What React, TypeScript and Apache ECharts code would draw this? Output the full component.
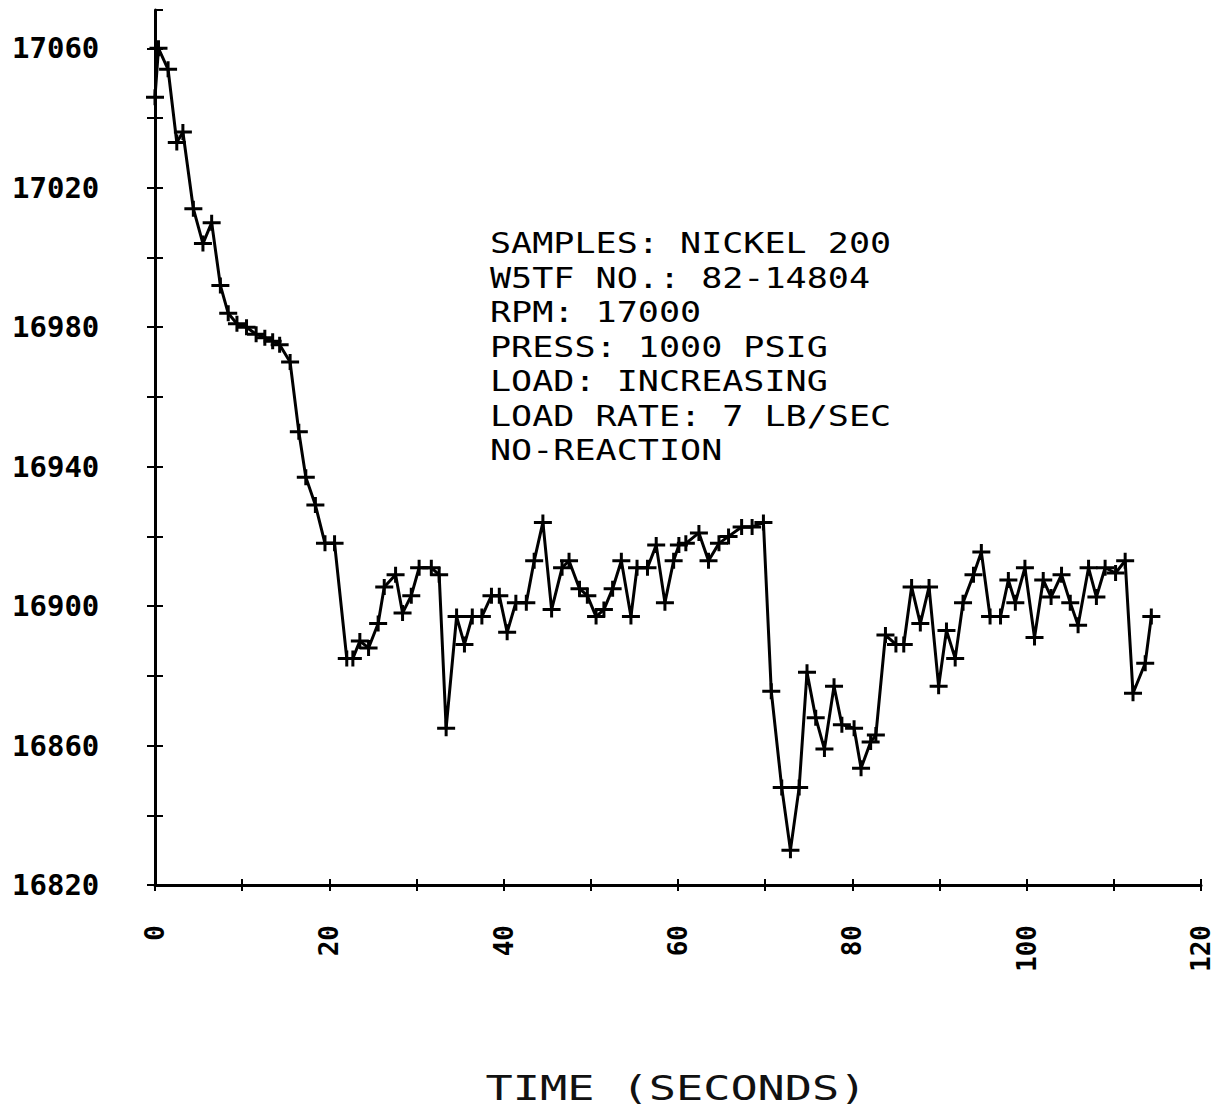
import React, { useEffect, useRef } from "react";
import * as echarts from "echarts";

const times = [
  0, 0.4, 1.5, 2.5, 3.2, 4.4, 5.5, 6.5, 7.5, 8.4, 9.4, 10.5, 11.6, 12.6, 13.5, 14.3, 15.5, 16.5, 17.3, 18.4,
  19.5, 20.6, 22, 22.7, 23.5, 24.5, 25.6, 26.3, 27.6, 28.4, 29.4, 30.3, 31.7, 32.6, 33.4, 34.6, 35.5, 36.4,
  37.5, 38.6, 39.5, 40.4, 41.4, 42.6, 43.5, 44.5, 45.5, 46.7, 47.5, 48.7, 49.6, 50.6, 51.5, 52.5, 53.5, 54.6,
  55.3, 56.5, 57.5, 58.5, 59.5, 60.1, 60.9, 62.4, 63.5, 64.7, 65.8, 67.3, 68.5, 69.8, 70.7, 71.9, 72.9, 73.9,
  74.8, 75.8, 76.8, 77.9, 78.8, 80.2, 81, 82.1, 82.7, 83.8, 85, 85.9, 86.8, 87.8, 88.8, 89.9, 90.8, 91.8,
  92.7, 93.9, 94.8, 95.8, 97, 97.9, 98.7, 99.8, 100.9, 101.9, 102.8, 104, 105, 105.9, 107.1, 108, 109, 110.2,
  111.3, 112.2, 113.6, 114.3,
];

const rpm = [
  17046, 17060, 17054, 17033, 17036, 17014, 17004, 17010, 16992, 16984, 16981, 16980, 16978, 16977, 16976,
  16975, 16970, 16950, 16937, 16929, 16918, 16918, 16885, 16885, 16890, 16888, 16895, 16905.5, 16909, 16898,
  16903, 16911, 16911, 16909, 16865, 16897, 16889, 16897, 16897, 16903, 16903, 16892.5, 16901, 16901, 16913,
  16924, 16899, 16911, 16913, 16905, 16903, 16897, 16899, 16905, 16913, 16897, 16911, 16911, 16917.5, 16901,
  16913, 16917.5, 16918, 16921, 16913, 16918, 16920, 16922.7, 16922.7, 16924, 16875.6, 16848, 16830, 16848,
  16881, 16868, 16859, 16877, 16866, 16865, 16853.5, 16861, 16863, 16891.7, 16889, 16889, 16905.5, 16895,
  16905.5, 16877, 16893, 16885, 16901, 16909, 16915.5, 16897, 16897, 16907.5, 16901, 16911, 16891, 16907.5,
  16902.6, 16909, 16901, 16894.5, 16911, 16902.6, 16911, 16909.5, 16913, 16875, 16883.6, 16897,
];

const annotationLines = [
  "SAMPLES: NICKEL 200",
  "W5TF NO.: 82-14804",
  "RPM: 17000",
  "PRESS: 1000 PSIG",
  "LOAD: INCREASING",
  "LOAD RATE: 7 LB/SEC",
  "NO-REACTION",
];

const xTitle = "TIME (SECONDS)";

const Y_MIN = 16820;
const Y_MAX = 17071;
const X_MIN = 0;
const X_MAX = 120;

const MONO = "'DejaVu Sans Mono', 'Liberation Mono', monospace";
const PLUS = "path://M7.5,0h3v6.5h7.5v3h-7.5v6.5h-3v-6.5h-7.5v-3h7.5z";

export default function App() {
  const ref = useRef<HTMLDivElement>(null);

  useEffect(() => {
    if (!ref.current) return;
    const chart = echarts.init(ref.current, null, { renderer: "svg" });
    const data = times.map((t, i) => [t, rpm[i]]);

    const yLabelFmt = (v: number) => ((v - Y_MIN) % 40 === 0 ? String(v) : "");
    const xLabelFmt = (v: number) => (v % 20 === 0 ? String(v) : "");

    chart.setOption({
      animation: false,
      backgroundColor: "#ffffff",
      grid: { left: 155, right: 14, top: 10, bottom: 224, containLabel: false },
      xAxis: [
        {
          type: "value",
          min: X_MIN,
          max: X_MAX,
          interval: 10,
          position: "bottom",
          axisLine: { show: true, onZero: false, lineStyle: { color: "#000", width: 3 } },
          axisTick: { show: true, length: 6, lineStyle: { color: "#000", width: 2 } },
          axisLabel: {
            formatter: xLabelFmt,
            rotate: 90,
            margin: 40,
            color: "#000",
            fontFamily: MONO,
            fontWeight: "bold",
            fontSize: 26,
          },
          splitLine: { show: false },
        },
        {
          type: "value",
          min: X_MIN,
          max: X_MAX,
          interval: 10,
          position: "bottom",
          offset: 0,
          axisLine: { show: false },
          axisTick: { show: true, inside: true, length: 6, lineStyle: { color: "#000", width: 2 } },
          axisLabel: { show: false },
          splitLine: { show: false },
        },
      ],
      yAxis: [
        {
          type: "value",
          min: Y_MIN,
          max: Y_MAX,
          interval: 20,
          position: "left",
          axisLine: { show: true, onZero: false, lineStyle: { color: "#000", width: 3 } },
          axisTick: { show: true, length: 8, lineStyle: { color: "#000", width: 2 } },
          axisLabel: {
            formatter: yLabelFmt,
            align: "left",
            margin: 143,
            color: "#000",
            fontFamily: MONO,
            fontWeight: "bold",
            fontSize: 29,
            showMaxLabel: false,
          },
          splitLine: { show: false },
        },
        {
          type: "value",
          min: Y_MIN,
          max: Y_MAX,
          interval: 20,
          position: "left",
          offset: 0,
          axisLine: { show: false },
          axisTick: { show: true, inside: true, length: 8, lineStyle: { color: "#000", width: 2 } },
          axisLabel: { show: false },
          splitLine: { show: false },
        },
      ],
      graphic: [
        {
          type: "text",
          x: 490,
          y: 226,
          scaleX: 1.21,
          style: {
            text: annotationLines.join("\n"),
            font: `500 29px ${MONO}`,
            lineHeight: 34.5,
            fill: "#000",
            textAlign: "left",
            textVerticalAlign: "top",
          },
        },
        {
          type: "text",
          x: 676,
          y: 1088,
          scaleX: 1.37,
          style: {
            text: xTitle,
            font: `normal 33px ${MONO}`,
            fill: "#111",
            textAlign: "center",
            textVerticalAlign: "middle",
          },
        },
      ],
      series: [
        {
          type: "line",
          xAxisIndex: 0,
          yAxisIndex: 0,
          data,
          symbol: PLUS,
          symbolSize: [18, 16],
          symbolKeepAspect: false,
          showAllSymbol: true,
          itemStyle: { color: "#000" },
          lineStyle: { color: "#000", width: 3 },
          emphasis: { disabled: true },
        },
      ],
    });

    return () => chart.dispose();
  }, []);

  return <div ref={ref} style={{ width: 1215, height: 1109, position: "absolute", left: 0, top: 0 }} />;
}
